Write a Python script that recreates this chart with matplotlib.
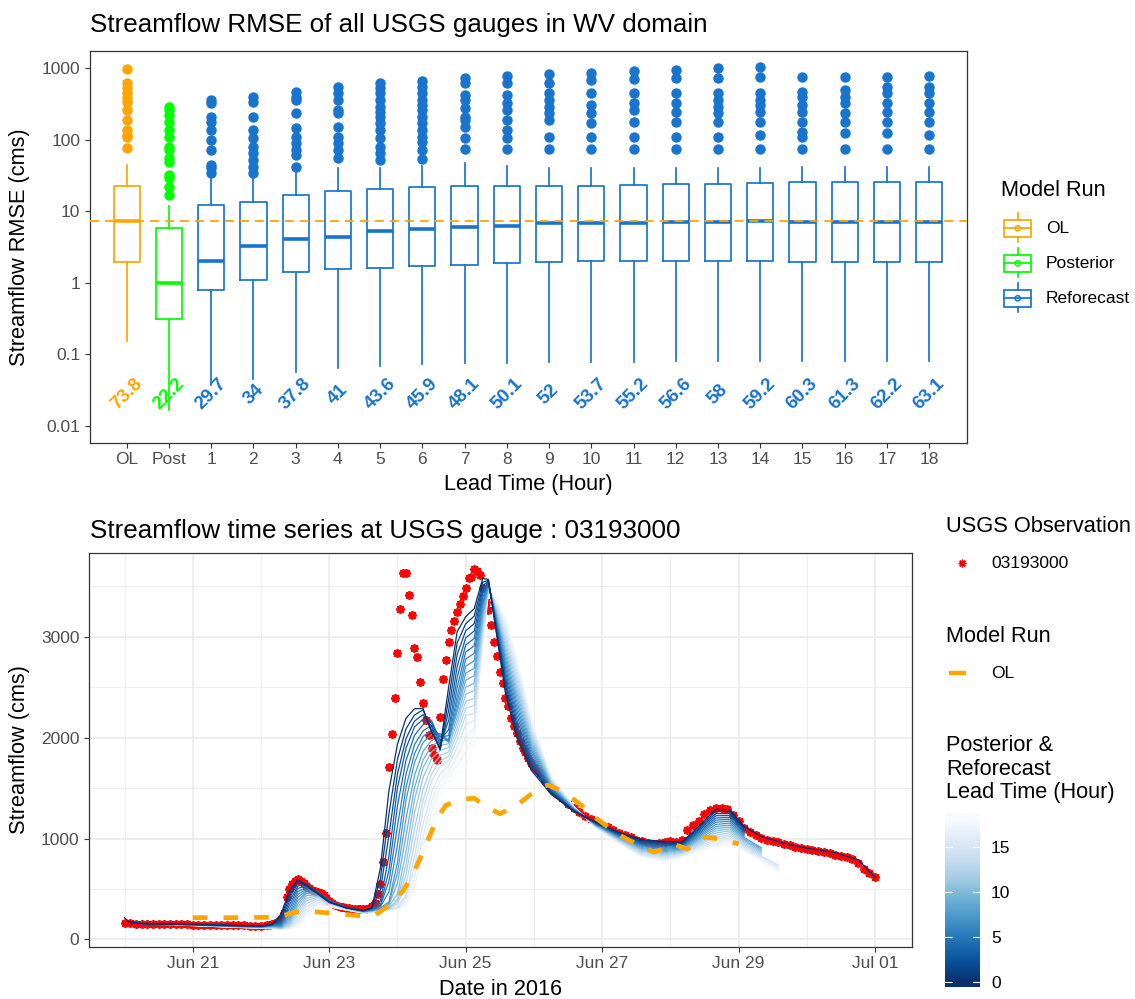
import numpy as np
import matplotlib
matplotlib.use("Agg")
import matplotlib.pyplot as plt
import matplotlib.dates as mdates
import matplotlib.ticker as mticker
from matplotlib.colors import Normalize
from matplotlib.patches import Rectangle, Circle

plt.rcParams['font.family'] = ['Liberation Sans', 'DejaVu Sans']

# ---------------------------------------------------------------- data: RMSE boxplots
categories = ["OL", "Post", "1", "2", "3", "4", "5", "6", "7", "8", "9",
              "10", "11", "12", "13", "14", "15", "16", "17", "18"]
box_group = ["OL", "Posterior"] + ["Reforecast"] * 18
box_q1 = [1.93, 0.312, 0.79, 1.10, 1.43, 1.56, 1.60, 1.72, 1.77, 1.87,
          1.97, 2.04, 2.00, 2.00, 2.00, 2.00, 1.98, 1.98, 1.97, 1.97]
box_med = [7.2, 1.0, 2.04, 3.27, 4.05, 4.4, 5.29, 5.64, 6.08, 6.27,
           6.84, 6.84, 6.9, 7.0, 7.13, 7.3, 7.13, 7.13, 7.13, 7.13]
box_q3 = [22.5, 5.77, 12.1, 13.6, 16.8, 19.1, 20.2, 21.8, 22.5, 22.5,
          22.5, 22.7, 23.2, 23.8, 24.0, 25.0, 25.4, 25.6, 25.6, 25.8]
box_lo = [0.154, 0.0167, 0.038, 0.046, 0.057, 0.065, 0.0695, 0.073, 0.075, 0.0766,
          0.0776, 0.0776, 0.079, 0.08, 0.08, 0.08, 0.081, 0.081, 0.082, 0.082]
box_hi = [44.2, 11.8, 27.9, 30.3, 34.5, 39.8, 39.8, 42.8, 46.7, 42.8,
          39.8, 39.8, 39.8, 40.0, 40.0, 40.5, 41.0, 41.5, 41.8, 42.0]
box_fliers = [
    [76, 108, 116, 136, 188, 259, 339, 378, 443, 520, 611, 968],
    [16.8, 22, 28.8, 32, 49, 55, 72, 80, 108, 136, 178, 221, 259, 288],
    [34, 40, 44, 72, 99, 136, 178, 209, 321, 357],
    [34, 42, 52, 64, 80, 104, 136, 209, 339, 398],
    [42, 61, 72, 89, 110, 144, 233, 357, 398, 467],
    [55, 72, 89, 110, 151, 233, 259, 357, 443, 548],
    [52, 64, 80, 104, 136, 169, 209, 244, 288, 357, 443, 520, 611],
    [53, 72, 93, 110, 136, 169, 209, 259, 304, 357, 443, 548, 665],
    [73, 104, 151, 188, 209, 274, 357, 420, 611, 718],
    [74, 104, 136, 188, 259, 321, 420, 611, 773],
    [73, 110, 188, 233, 288, 357, 443, 611, 824],
    [73, 110, 169, 233, 304, 443, 680, 860],
    [73, 110, 178, 259, 321, 443, 695, 916],
    [73, 110, 178, 244, 321, 443, 718, 935],
    [73, 110, 178, 233, 288, 357, 443, 718, 990],
    [73, 116, 178, 244, 304, 357, 443, 742, 1023],
    [73, 110, 129, 178, 244, 304, 398, 467, 742],
    [73, 122, 178, 233, 321, 398, 493, 755],
    [73, 122, 178, 244, 321, 443, 548, 755],
    [73, 116, 178, 244, 321, 443, 548, 773],
]
pct_labels = [73.8, 22.2, 29.7, 34, 37.8, 41, 43.6, 45.9, 48.1, 50.1,
              52, 53.7, 55.2, 56.6, 58, 59.2, 60.3, 61.3, 62.2, 63.1]
label_y = 0.028
group_colors = {"OL": "#FFA500", "Posterior": "#00FF00", "Reforecast": "#1874CD"}

# ---------------------------------------------------------------- data: time series
# hours since 2016-06-20 00:00
obs_hours = [0, 2, 4, 6, 8, 10, 12, 14, 16, 18, 20, 22, 24, 26, 28, 30, 32, 34, 36, 38,
             40, 42, 44, 46, 48, 50,
             51, 52, 53, 54, 55, 56, 57, 58, 59, 60, 61, 62, 63, 64, 65, 66, 67, 68, 69, 70,
             71, 72, 73, 74, 75, 76, 77, 78, 79, 80, 81, 82, 83, 84, 85, 86, 87, 88, 89, 90,
             91, 92, 93, 94, 95, 96, 97, 98, 99, 100, 101, 102, 103, 104, 105, 106, 107, 108,
             109, 110, 111, 112, 113, 114, 115, 116, 117, 118, 119, 120, 121, 122, 123, 124,
             125, 126, 127, 128, 129, 130, 131, 132, 133, 134, 135, 136, 137, 138, 139, 140,
             141, 142, 143, 144, 145,
             146, 148, 150, 152, 154, 156, 158, 160, 162, 164, 166, 168, 170, 172, 174, 176,
             178, 180, 182, 184, 186, 188, 190, 192, 194, 196, 198, 200, 202, 204, 206, 208,
             210, 212, 214, 216, 218, 220, 222, 224, 226, 228, 230, 232, 234, 236, 238, 240,
             242, 244, 246, 248, 250, 252, 254, 256, 258, 260, 262, 264]
obs_flow = [160, 158, 156, 155, 154, 153, 152, 151, 150, 150, 149, 148, 147, 146, 145, 144,
            143, 142, 141, 140, 139, 138, 137, 136, 136, 140,
            142, 150, 160, 175, 200, 260, 420, 500, 547, 580, 597, 580, 560, 525, 505, 490,
            478, 468, 455, 435, 410, 380, 360, 340, 330, 322, 318, 314, 310, 305, 300, 297,
            296, 296, 298, 310, 330, 365, 450, 550,
            763, 1053, 1713, 2040, 2397, 2840, 3273, 3637, 3637, 3413, 3213, 2890, 2803, 2553,
            2340, 2180, 2030, 1897, 1830, 1780, 2207, 2587, 2773, 2953, 3070, 3157, 3247, 3323,
            3407, 3487, 3580, 3590, 3673, 3653, 3613, 3480, 3347, 3263, 3120, 2953, 2813, 2647,
            2540, 2397, 2313, 2197, 2113, 2047, 1963, 1900, 1860, 1800, 1750, 1710, 1680,
            1650, 1570, 1500, 1450, 1400, 1340, 1300, 1260, 1225, 1195, 1165, 1135, 1110, 1085,
            1055, 1035, 1015, 990, 975, 960, 950, 955, 965, 975, 970, 990, 1080, 1130, 1175,
            1240, 1280, 1305, 1300, 1295, 1230, 1170, 1100, 1060, 1030, 1005, 990, 975, 965,
            950, 935, 915, 905, 895, 890, 880, 870, 855, 840, 830, 815, 800, 760, 700, 660, 620]

ol_hours = [24, 36, 48, 54, 60, 66, 72, 78, 84, 88, 91, 94, 98, 102, 105, 108, 110, 113,
            118, 123, 127, 132, 138, 143, 146, 149, 153, 157, 163, 166, 173, 178, 184, 186,
            190, 193, 198, 204, 208, 212, 216]
ol_flow = [215, 215, 218, 222, 270, 275, 262, 245, 232, 240, 297, 370, 480, 680, 870, 1070,
           1200, 1330, 1385, 1400, 1320, 1245, 1330, 1440, 1510, 1530, 1480, 1410, 1280, 1200,
           1050, 975, 895, 865, 900, 945, 895, 1015, 1000, 980, 945]

lead_times = list(range(19))
N = None
rf_hours = [0, 2, 6, 12, 18, 24, 36, 48, 52, 55, 58, 61, 64, 68, 72, 78, 84, 87, 90, 93, 96,
            99, 102, 105, 108, 111, 114, 117, 120, 123, 126, 128, 131, 134, 138, 143, 150,
            158, 166, 174, 182, 190, 196, 202, 208, 213, 218, 224, 230, 234, 240, 250, 258, 264]
# one row per hour, one column per lead time 0..18 (lead 0 = Posterior)
rf_flow = [
    [213, N, N, N, N, N, N, N, N, N, N, N, N, N, N, N, N, N, N],
    [165, 178, 168, N, N, N, N, N, N, N, N, N, N, N, N, N, N, N, N],
    [155, 157, 158, 158, 157, 156, 155, N, N, N, N, N, N, N, N, N, N, N, N],
    [152, 153, 153, 153, 152, 152, 151, 150, 150, 149, 149, 148, 148, N, N, N, N, N, N],
    [150, 150, 150, 150, 149, 149, 148, 148, 147, 147, 146, 146, 145, 145, 144, 144, 143, 143, 142],
    [148, 148, 147, 147, 146, 146, 145, 145, 144, 143, 143, 142, 141, 140, 140, 139, 138, 137, 137],
    [140, 139, 138, 137, 136, 135, 134, 133, 132, 131, 130, 129, 128, 127, 126, 125, 124, 123, 122],
    [132, 131, 130, 129, 128, 126, 125, 124, 122, 121, 120, 119, 117, 116, 115, 113, 112, 111, 110],
    [150, 148, 146, 144, 142, 140, 137, 135, 132, 130, 127, 124, 121, 118, 115, 112, 110, 107, 105],
    [250, 225, 200, 180, 165, 150, 140, 132, 126, 121, 117, 113, 110, 108, 106, 104, 102, 101, 100],
    [480, 445, 410, 375, 340, 305, 270, 240, 215, 195, 175, 160, 148, 138, 128, 120, 113, 106, 100],
    [595, 575, 555, 530, 505, 475, 445, 415, 385, 355, 325, 295, 265, 235, 205, 180, 160, 145, 130],
    [530, 540, 545, 540, 530, 515, 500, 485, 470, 455, 435, 410, 385, 355, 325, 295, 265, 230, 200],
    [450, 455, 460, 465, 468, 468, 465, 460, 455, 448, 440, 430, 418, 405, 390, 372, 352, 325, 300],
    [365, 370, 375, 378, 380, 382, 383, 383, 382, 380, 377, 373, 368, 362, 355, 347, 338, 330, 320],
    [312, 313, 314, 315, 315, 315, 314, 313, 312, 310, 308, 306, 304, 302, 299, 296, 294, 292, 290],
    [285, 285, 284, 283, 282, 281, 280, 279, 278, 276, 274, 272, 270, 268, 266, 264, 262, 261, 260],
    [310, 314, 313, 309, 300, 292, 290, 288, 287, 285, 283, 281, 279, 277, 275, 273, 271, 270, 268],
    [706, 598, 490, 384, 339, 333, 324, 312, 305, 300, 296, 293, 290, 288, 286, 284, 282, 280, 278],
    [1474, 1244, 1028, 825, 682, 575, 470, 371, 361, 346, 328, 310, 305, 300, 296, 293, 290, 288, 286],
    [1935, 1784, 1640, 1502, 1323, 1122, 935, 764, 659, 555, 451, 395, 375, 351, 323, 315, 308, 302, 298],
    [2192, 2088, 1990, 1895, 1774, 1638, 1508, 1381, 1197, 1025, 865, 740, 638, 536, 434, 410, 381, 348, 330],
    [2287, 2225, 2165, 2106, 2024, 1931, 1842, 1753, 1625, 1504, 1388, 1250, 1094, 951, 821, 719, 618, 518, 451],
    [2290, 2277, 2229, 2183, 2128, 2069, 2012, 1954, 1865, 1781, 1701, 1603, 1489, 1382, 1282, 1143, 1016, 902, 799],
    [2050, 2071, 2112, 2146, 2169, 2122, 2076, 2030, 1972, 1917, 1862, 1793, 1714, 1639, 1569, 1464, 1365, 1274, 1171],
    [1900, 1880, 1878, 1930, 1973, 2008, 2031, 2040, 2014, 1969, 1924, 1874, 1819, 1766, 1714, 1640, 1571, 1505, 1428],
    [2500, 2380, 2270, 2170, 2080, 2020, 1975, 1955, 1966, 1975, 1940, 1904, 1861, 1816, 1773, 1720, 1668, 1618, 1560],
    [3050, 2940, 2824, 2705, 2596, 2497, 2409, 2346, 2290, 2255, 2203, 2151, 2096, 2039, 1983, 1905, 1817, 1727, 1640],
    [3200, 3130, 3060, 2990, 2920, 2850, 2780, 2710, 2640, 2570, 2500, 2430, 2360, 2290, 2220, 2130, 2000, 1860, 1700],
    [3280, 3206, 3132, 3058, 2984, 2910, 2836, 2762, 2688, 2614, 2540, 2466, 2392, 2318, 2244, 2170, 2096, 2022, 1948],
    [3580, 3542, 3504, 3466, 3428, 3390, 3352, 3314, 3276, 3238, 3200, 3162, 3124, 3086, 3048, 3010, 2972, 2934, 2896],
    [3570, 3563, 3556, 3549, 3542, 3535, 3528, 3521, 3514, 3507, 3500, 3493, 3486, 3479, 3472, 3465, 3458, 3451, 3444],
    [3000, 3021, 3042, 3063, 3084, 3106, 3127, 3148, 3169, 3190, 3211, 3232, 3253, 3274, 3296, 3317, 3338, 3359, 3380],
    [2440, 2482, 2524, 2567, 2609, 2651, 2693, 2736, 2778, 2820, 2862, 2904, 2947, 2989, 3031, 3073, 3116, 3158, 3200],
    [2000, 2044, 2089, 2133, 2178, 2222, 2267, 2311, 2356, 2400, 2444, 2489, 2533, 2578, 2622, 2667, 2711, 2756, 2800],
    [1680, 1709, 1738, 1767, 1796, 1824, 1853, 1882, 1911, 1940, 1969, 1998, 2027, 2056, 2084, 2113, 2142, 2171, 2200],
    [1440, 1450, 1460, 1470, 1480, 1490, 1500, 1510, 1520, 1530, 1540, 1550, 1560, 1570, 1580, 1590, 1600, 1610, 1620],
    [1270, 1273, 1276, 1278, 1281, 1284, 1287, 1289, 1292, 1295, 1298, 1301, 1303, 1306, 1309, 1312, 1314, 1317, 1320],
    [1160, 1157, 1153, 1150, 1147, 1143, 1140, 1137, 1133, 1130, 1127, 1123, 1120, 1117, 1113, 1110, 1107, 1103, 1100],
    [1060, 1054, 1048, 1042, 1036, 1029, 1023, 1017, 1011, 1005, 999, 993, 987, 981, 975, 968, 962, 956, 950],
    [990, 980, 970, 960, 950, 940, 930, 920, 910, 900, 890, 880, 870, 860, 850, 840, 830, 820, 810],
    [970, 959, 948, 937, 926, 914, 903, 892, 881, 870, 859, 848, 837, 826, 814, 803, 792, 781, 770],
    [965, 957, 948, 940, 931, 923, 914, 906, 897, 889, 881, 872, 864, 855, 847, 838, 830, 821, 813],
    [1120, 1106, 1092, 1078, 1064, 1051, 1037, 1023, 1009, 995, 981, 967, 953, 939, 926, 912, 898, 884, 870],
    [1290, 1269, 1247, 1226, 1204, 1183, 1162, 1140, 1119, 1097, 1076, 1055, 1033, 1012, 990, 969, 948, 926, 905],
    [1285, 1266, 1247, 1228, 1209, 1191, 1172, 1153, 1134, 1115, 1096, 1077, 1058, 1039, 1021, 1002, 983, 964, 945],
    [1120, 1106, 1092, 1078, 1064, 1051, 1037, 1023, 1009, 995, 981, 967, 953, 939, 926, 912, 898, 884, 870],
    [1020, N, N, N, N, N, N, N, 909, 895, 881, 867, 853, 839, 825, 812, 798, 784, 770],
    [970, N, N, N, N, N, N, N, N, N, N, N, N, N, 737, 720, 703, 687, 670],
    [940, N, N, N, N, N, N, N, N, N, N, N, N, N, N, N, N, N, 590],
    [905, N, N, N, N, N, N, N, N, N, N, N, N, N, N, N, N, N, N],
    [860, N, N, N, N, N, N, N, N, N, N, N, N, N, N, N, N, N, N],
    [790, N, N, N, N, N, N, N, N, N, N, N, N, N, N, N, N, N, N],
    [620, N, N, N, N, N, N, N, N, N, N, N, N, N, N, N, N, N, N],
]
gauge_id = "03193000"
major_dates = ["2016-06-21", "2016-06-23", "2016-06-25", "2016-06-27", "2016-06-29", "2016-07-01"]
minor_dates = ["2016-06-20", "2016-06-22", "2016-06-24", "2016-06-26", "2016-06-28", "2016-06-30"]

# ---------------------------------------------------------------- figure
W, H = 1135, 999
fig = plt.figure(figsize=(W / 100, H / 100), dpi=100)


def fx(px):
    return px / W


def fy(py):
    return 1.0 - py / H


TICK_C = "#4D4D4D"
BORDER_C = "#333333"
GRID_C = "#EBEBEB"
TICK_FS = 12.5
TITLE_FS = 18.7
AXT_FS = 15.7

# ---------------- top panel
ax1 = fig.add_axes([fx(90), fy(442.7), fx(966.7) - fx(90), fy(50.7) - fy(442.7)])
for i in range(len(categories)):
    c = group_colors[box_group[i]]
    st = dict(med=box_med[i], q1=box_q1[i], q3=box_q3[i], whislo=box_lo[i],
              whishi=box_hi[i], fliers=box_fliers[i])
    ax1.bxp([st], positions=[i], widths=0.62, showcaps=False, showfliers=True,
            manage_ticks=False,
            boxprops=dict(color=c, lw=1.25),
            whiskerprops=dict(color=c, lw=1.25),
            medianprops=dict(color=c, lw=2.6, solid_capstyle='butt'),
            flierprops=dict(marker='o', markerfacecolor=c, markeredgecolor=c,
                            markersize=6.5, linestyle='none'))
    ax1.text(i, label_y, f"{pct_labels[i]:g}", rotation=45, ha='center', va='center',
             color=c, fontsize=13.5, fontweight='bold')
ax1.axhline(box_med[0], color=group_colors["OL"], lw=1.3, dashes=(5, 3.3), zorder=5)
ax1.set_yscale('log')
ax1.set_ylim(0.00585, 1745)
ax1.set_xlim(-0.87, 19.89)
ax1.set_yticks([0.01, 0.1, 1, 10, 100, 1000])
ax1.set_yticklabels(["0.01", "0.1", "1", "10", "100", "1000"])
ax1.yaxis.set_minor_locator(mticker.NullLocator())
ax1.set_xticks(range(len(categories)))
ax1.set_xticklabels(categories)
ax1.tick_params(axis='both', colors=BORDER_C, labelcolor=TICK_C, labelsize=TICK_FS,
                length=3.9, width=0.8)
ax1.tick_params(axis='x', pad=2.8)
ax1.tick_params(axis='y', pad=3.0)
for s in ax1.spines.values():
    s.set_color(BORDER_C)
    s.set_linewidth(0.9)

# ---------------- bottom panel
t0 = mdates.date2num(np.datetime64("2016-06-20T00:00"))


def hrs(h):
    return t0 + np.asarray(h, dtype=float) / 24.0


ax2 = fig.add_axes([fx(89), fy(946.7), fx(911.7) - fx(89), fy(553.3) - fy(946.7)])
ax2.set_axisbelow(True)
ax2.plot(hrs(obs_hours), obs_flow, ls='none', marker=(8, 2, 0), ms=6.3, mew=1.3,
         color='red', zorder=3)
rf = np.array(rf_flow, dtype=float)
cmap = plt.get_cmap('Blues_r')
norm = Normalize(vmin=min(lead_times), vmax=max(lead_times))
t_rf = hrs(rf_hours)
for L in reversed(lead_times):
    col = rf[:, L]
    ok = ~np.isnan(col)
    ax2.plot(t_rf[ok], col[ok], color=cmap(norm(L)), lw=0.9, zorder=4)
ax2.plot(hrs(ol_hours), ol_flow, color=group_colors["OL"], lw=3.4, dashes=(3.1, 3.4),
         dash_capstyle='butt', zorder=5)
ax2.set_xlim(hrs(-12.5), hrs(276.9))
ax2.set_ylim(-73, 3829)
ax2.set_xticks([mdates.date2num(np.datetime64(d)) for d in major_dates])
ax2.set_xticks([mdates.date2num(np.datetime64(d)) for d in minor_dates], minor=True)
ax2.xaxis.set_major_formatter(mdates.DateFormatter("%b %d"))
ax2.set_yticks([0, 1000, 2000, 3000])
ax2.set_yticks([500, 1500, 2500, 3500], minor=True)
ax2.grid(which='major', color=GRID_C, lw=1.2)
ax2.grid(which='minor', color=GRID_C, lw=0.6)
ax2.tick_params(axis='both', which='major', colors=BORDER_C, labelcolor=TICK_C,
                labelsize=TICK_FS, length=3.9, width=0.8)
ax2.tick_params(axis='both', which='minor', length=0)
ax2.tick_params(axis='x', pad=2.8)
ax2.tick_params(axis='y', pad=3.0)
for s in ax2.spines.values():
    s.set_color(BORDER_C)
    s.set_linewidth(0.9)

# ---------------- overlay for titles and legends (pixel coordinates)
ov = fig.add_axes([0, 0, 1, 1], zorder=20)
ov.set_xlim(0, W)
ov.set_ylim(H, 0)
ov.axis('off')
ov.patch.set_alpha(0)

ov.text(90, 32, "Streamflow RMSE of all USGS gauges in WV domain", fontsize=TITLE_FS,
        va='baseline', ha='left')
ov.text(90, 538, f"Streamflow time series at USGS gauge : {gauge_id}", fontsize=TITLE_FS,
        va='baseline', ha='left')
ov.text(528.4, 490, "Lead Time (Hour)", fontsize=AXT_FS, va='baseline', ha='center')
ov.text(500.4, 995, "Date in 2016", fontsize=AXT_FS, va='baseline', ha='center')
ov.text(20, 246.7, "Streamflow RMSE (cms)", fontsize=AXT_FS, rotation=90,
        va='center', ha='center')
ov.text(20, 750, "Streamflow (cms)", fontsize=AXT_FS, rotation=90, va='center', ha='center')

# top legend
ov.text(1001, 190, "Model Run", fontsize=AXT_FS, va='center', ha='left')
for name, yc in [("OL", 228.3), ("Posterior", 263.3), ("Reforecast", 298.3)]:
    c = group_colors[name]
    ov.add_patch(Rectangle((1004.3, yc - 8.7), 26.7, 17.4, fill=False, ec=c, lw=1.25))
    ov.plot([1017.7, 1017.7], [yc - 15, yc - 8.7], color=c, lw=1.25)
    ov.plot([1017.7, 1017.7], [yc + 8.7, yc + 13.4], color=c, lw=1.25)
    ov.plot([1004.3, 1031], [yc, yc], color=c, lw=1.25)
    ov.add_patch(Circle((1017.7, yc), 2.6, fill=False, ec=c, lw=1.1))
    ov.text(1046, yc, name, fontsize=TICK_FS, va='center', ha='left')

# bottom legends
ov.text(946, 526, "USGS Observation", fontsize=AXT_FS, va='center', ha='left')
ov.plot([962.3], [563.3], marker=(8, 2, 0), ms=5.5, mew=1.0, color='red')
ov.text(991, 563.3, gauge_id, fontsize=TICK_FS, va='center', ha='left')
ov.text(946, 636, "Model Run", fontsize=AXT_FS, va='center', ha='left')
ov.plot([949, 965.7], [673.3, 673.3], color=group_colors["OL"], lw=3.2,
        solid_capstyle='butt')
ov.text(991, 673.3, "OL", fontsize=TICK_FS, va='center', ha='left')
ov.text(946, 745.7, "Posterior &", fontsize=AXT_FS, va='center', ha='left')
ov.text(946, 769.3, "Reforecast", fontsize=AXT_FS, va='center', ha='left')
ov.text(946, 792.7, "Lead Time (Hour)", fontsize=AXT_FS, va='center', ha='left')

cb_lo, cb_hi = -0.49, 18.7
cax = fig.add_axes([fx(945), fy(986.7), fx(980) - fx(945), fy(813.3) - fy(986.7)], zorder=21)
grad = np.linspace(cb_lo, cb_hi, 300).reshape(-1, 1)
cax.imshow(np.clip(grad, 0, 18), cmap=cmap, norm=norm, aspect='auto', origin='lower',
           extent=[0, 1, cb_lo, cb_hi])
cax.set_xlim(0, 1)
cax.set_ylim(cb_lo, cb_hi)
cb_ticks = [0, 5, 10, 15]
for v in cb_ticks:
    cax.plot([0, 0.2], [v, v], color='white', lw=0.8)
    cax.plot([0.8, 1], [v, v], color='white', lw=0.8)
cax.set_xticks([])
cax.yaxis.tick_right()
cax.set_yticks(cb_ticks)
cax.set_yticklabels([str(v) for v in cb_ticks])
cax.tick_params(axis='y', length=0, pad=8, labelsize=TICK_FS, labelcolor='black')
for s in cax.spines.values():
    s.set_visible(False)

fig.savefig("out.png", dpi=100)
